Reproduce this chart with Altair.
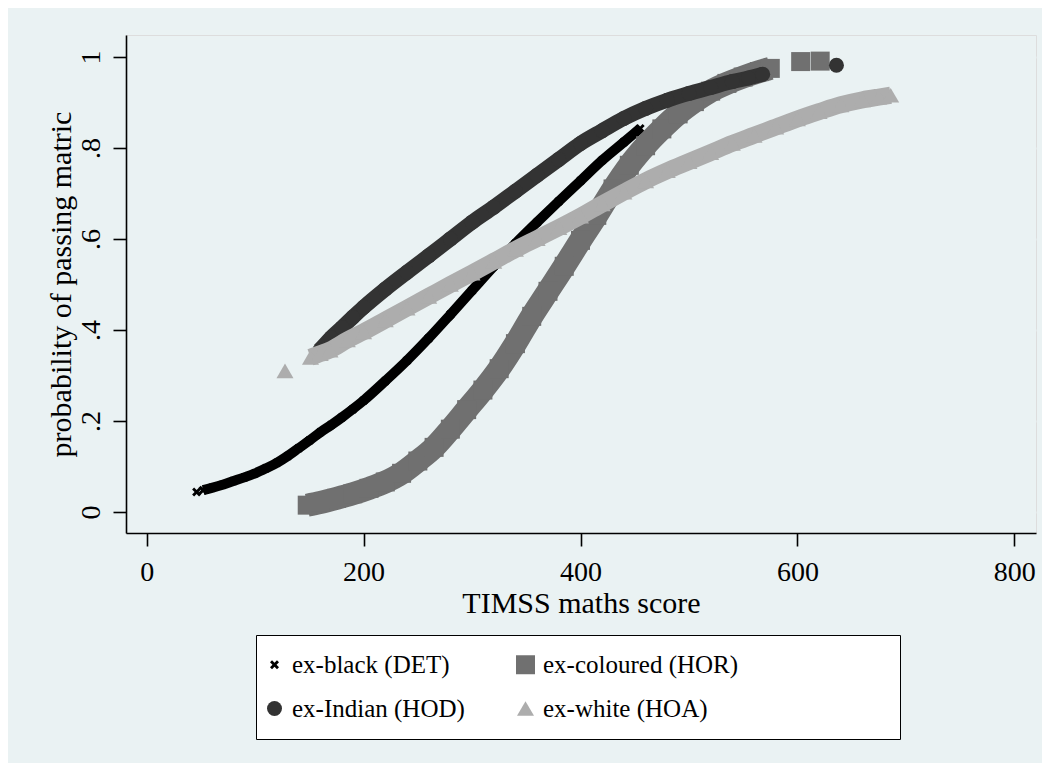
import altair as alt
import pandas as pd

# ---- data ----
GROUPS = ["ex-black (DET)", "ex-coloured (HOR)", "ex-Indian (HOD)", "ex-white (HOA)"]
COLORS = ["#000000", "#707070", "#333333", "#ADADAD"]

det_x = [52, 60, 70, 80, 90, 100, 110, 120, 130, 140, 150, 160, 170, 180, 190, 200,
         220, 240, 260, 280, 300, 320, 340, 360, 380, 400, 420, 440, 455]
det_y = [0.048, 0.053, 0.060, 0.068, 0.076, 0.085, 0.096, 0.108, 0.123, 0.140, 0.157,
         0.175, 0.191, 0.208, 0.226, 0.245, 0.288, 0.333, 0.382, 0.434, 0.487, 0.540,
         0.590, 0.637, 0.683, 0.728, 0.773, 0.813, 0.843]
det_ex_x = [46]
det_ex_y = [0.044]

hor_x = [148, 160, 175, 190, 205, 220, 235, 250, 265, 280, 295, 310, 325, 340, 355,
         370, 385, 400, 415, 430, 445, 460, 475, 490, 505, 520, 535, 550, 565, 575]
hor_y = [0.015, 0.021, 0.030, 0.040, 0.052, 0.066, 0.085, 0.112, 0.142, 0.182, 0.225,
         0.268, 0.315, 0.370, 0.430, 0.485, 0.540, 0.597, 0.652, 0.710, 0.762, 0.805,
         0.842, 0.875, 0.902, 0.925, 0.942, 0.956, 0.968, 0.975]
hor_ex_x = [603, 621]
hor_ex_y = [0.990, 0.991]

hod_x = [160, 170, 180, 190, 200, 220, 240, 260, 280, 300, 320, 340, 360, 380, 400,
         420, 440, 460, 480, 500, 520, 540, 555, 568]
hod_y = [0.357, 0.383, 0.405, 0.428, 0.450, 0.490, 0.527, 0.563, 0.600, 0.637, 0.670,
         0.705, 0.740, 0.775, 0.810, 0.838, 0.865, 0.887, 0.905, 0.920, 0.933, 0.946,
         0.954, 0.962]
hod_ex_x = [636]
hod_ex_y = [0.982]

hoa_x = [151, 160, 169, 185, 200, 220, 240, 260, 280, 300, 320, 340, 360, 380, 400,
         420, 440, 460, 480, 500, 520, 540, 560, 580, 600, 620, 640, 660, 675, 686]
hoa_y = [0.340, 0.348, 0.356, 0.378, 0.396, 0.422, 0.448, 0.474, 0.500, 0.525, 0.551,
         0.577, 0.601, 0.625, 0.650, 0.677, 0.703, 0.728, 0.750, 0.770, 0.790, 0.810,
         0.828, 0.846, 0.864, 0.880, 0.895, 0.906, 0.912, 0.916]
hoa_ex_x = [127.5]
hoa_ex_y = [0.310]

X_TICKS = [0, 200, 400, 600, 800]
Y_TICKS = [0, 0.2, 0.4, 0.6, 0.8, 1]

# ---- styles ----
X_PATH = ("M-1,-0.55L-0.55,-1L0,-0.45L0.55,-1L1,-0.55L0.45,0L1,0.55L0.55,1"
          "L0,0.45L-0.55,1L-1,0.55L-0.45,0Z")
SHAPES = [X_PATH, "square", "circle", "triangle-up"]
SIZES = [81, 361, 225, 289]
LINE_W = [10, 23, 15, 17]
FONT = "Liberation Serif"
BLANK = "\u2800" * 8  # invisible filler so the legend frame is as wide as the original

series = [
    (GROUPS[0], det_x, det_y, det_ex_x, det_ex_y),
    (GROUPS[1], hor_x, hor_y, hor_ex_x, hor_ex_y),
    (GROUPS[2], hod_x, hod_y, hod_ex_x, hod_ex_y),
    (GROUPS[3], hoa_x, hoa_y, hoa_ex_x, hoa_ex_y),
]
rows = []
for g, xs, ys, exs, eys in series:
    for a, b in zip(xs, ys):
        rows.append({"group": g, "score": a, "prob": b, "band": True})
    for a, b in zip(exs, eys):
        rows.append({"group": g, "score": a, "prob": b, "band": False})
df = pd.DataFrame(rows)

x_enc = alt.X(
    "score:Q",
    scale=alt.Scale(domain=[-19.1, 820], nice=False, zero=False),
    axis=alt.Axis(
        values=X_TICKS, title="TIMSS maths score", grid=False,
        domainColor="black", domainWidth=1.6, tickColor="black", tickWidth=1.6,
        tickSize=13, labelFont=FONT, labelFontSize=28, labelColor="black",
        labelPadding=34, labelBaseline="alphabetic", labelFlush=False,
        labelOverlap=False, titleFont=FONT, titleFontSize=30,
        titleFontWeight="normal", titleColor="black", titleX=455, titleY=79,
        titleBaseline="alphabetic", titleAlign="center",
    ),
)
y_enc = alt.Y(
    "prob:Q",
    scale=alt.Scale(domain=[-0.0462, 1.0484], nice=False, zero=False),
    axis=alt.Axis(
        values=Y_TICKS, title="probability of passing matric",
        labelExpr="datum.value == 0 ? '0' : datum.value == 1 ? '1' : '.' + format(datum.value * 10, '.0f')",
        grid=True, gridColor="#EAF2F3", gridWidth=1.8,
        domainColor="black", domainWidth=1.6, tickColor="black", tickWidth=1.6,
        tickSize=13, labelFont=FONT, labelFontSize=28, labelColor="black",
        labelAngle=270, labelAlign="center", labelBaseline="alphabetic",
        labelPadding=14, labelFlush=False, labelOverlap=False,
        titleFont=FONT, titleFontSize=30, titleFontWeight="normal",
        titleColor="black", titleAngle=270, titleX=-56, titleY=249,
        titleBaseline="alphabetic", titleAlign="center",
    ),
)

legend = alt.Legend(
    orient="none", legendX=130, legendY=600, columns=2, direction="horizontal",
    fillColor="white", strokeColor="black", padding=17,
    labelFont=FONT, labelFontSize=25, labelColor="black", labelLimit=900,
    rowPadding=18, columnPadding=51, labelOffset=5, symbolOffset=-11,
    symbolStrokeWidth=0, symbolOpacity=1,
    labelExpr="indexof(datum.label, 'HOR') >= 0 ? datum.label + '" + BLANK + "' : datum.label",
)
color_enc = alt.Color("group:N", scale=alt.Scale(domain=GROUPS, range=COLORS),
                      legend=legend, title=None)
shape_enc = alt.Shape("group:N", scale=alt.Scale(domain=GROUPS, range=SHAPES),
                      legend=legend, title=None)
size_enc = alt.Size("group:N", scale=alt.Scale(type="ordinal", domain=GROUPS, range=SIZES),
                    legend=legend, title=None)

base = alt.Chart(df)
layers = []
for i, g in enumerate(GROUPS):
    line = base.transform_filter(
        (alt.datum.group == g) & (alt.datum.band == True)
    ).mark_line(
        color=COLORS[i], strokeWidth=LINE_W[i], interpolate="monotone",
        strokeCap="butt", strokeJoin="round"
    ).encode(x=x_enc, y=y_enc)
    pts = base.transform_filter(alt.datum.group == g).mark_point(
        filled=True, opacity=1, strokeWidth=0
    ).encode(x=x_enc, y=y_enc, color=color_enc, shape=shape_enc, size=size_enc)
    layers += [line, pts]

chart = alt.layer(*layers).properties(
    width=910, height=498,
    autosize=alt.AutoSizeParams(type="none"),
    padding={"left": 118, "top": 27, "right": 6, "bottom": 230},
    background="#EAF2F3",
).configure_view(
    fill="white", strokeWidth=0
).configure_legend(
    labelFont=FONT, labelFontSize=25, labelColor="black"
).configure(font=FONT)

chart.save("out.html", embed_options={"renderer": "svg", "actions": False})
